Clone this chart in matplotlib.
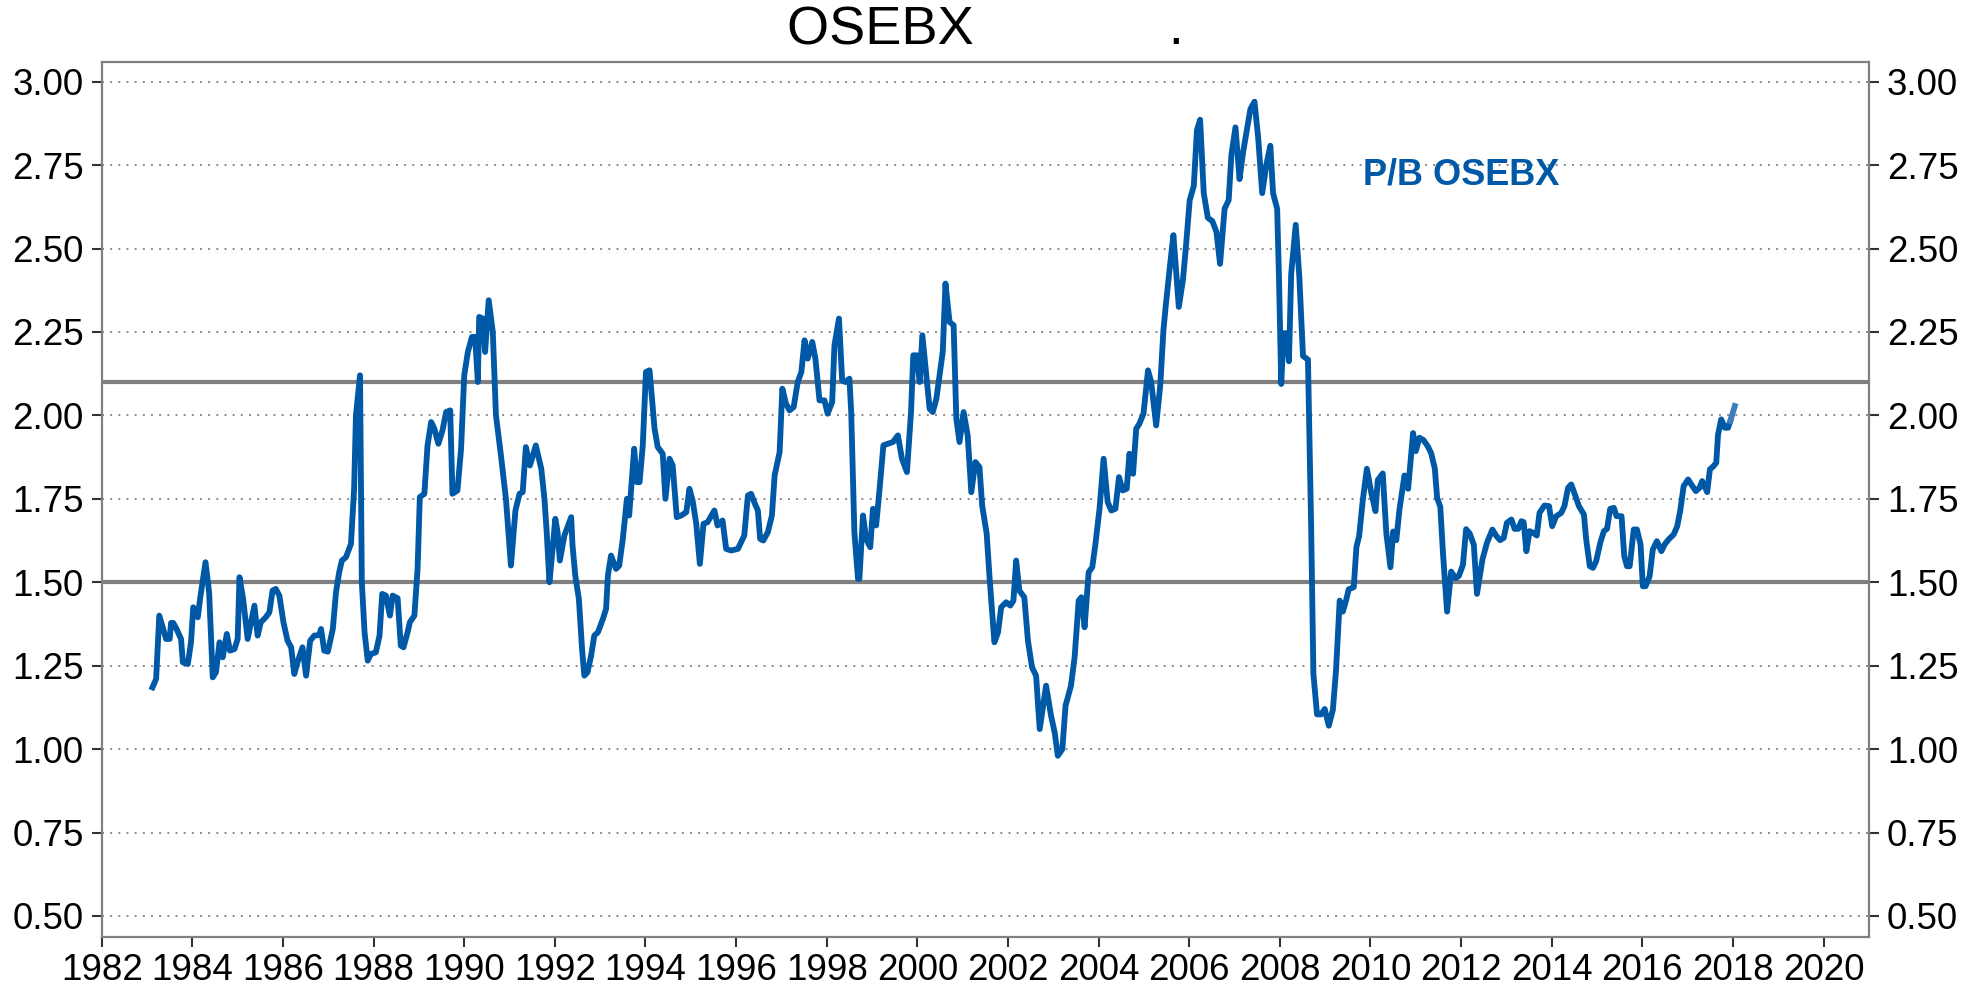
import matplotlib
matplotlib.use("Agg")
import matplotlib.pyplot as plt

plt.rcParams['font.family'] = ['Liberation Sans', 'DejaVu Sans']

# P/B OSEBX (fractional year, value)
years = [
    1983.12, 1983.20, 1983.27, 1983.42, 1983.50, 1983.53, 1983.58, 1983.65, 1983.75, 1983.79,
    1983.90, 1983.97, 1984.02, 1984.12, 1984.17, 1984.29, 1984.37, 1984.45, 1984.52, 1984.60,
    1984.67, 1984.76, 1984.83, 1984.93, 1985.00, 1985.04, 1985.12, 1985.22, 1985.37, 1985.44,
    1985.51, 1985.62, 1985.70, 1985.77, 1985.84, 1985.92, 1986.01, 1986.10, 1986.18, 1986.25,
    1986.32, 1986.43, 1986.51, 1986.60, 1986.69, 1986.80, 1986.84, 1986.91, 1986.99, 1987.10,
    1987.17, 1987.24, 1987.30, 1987.39, 1987.50, 1987.57, 1987.61, 1987.70, 1987.74, 1987.80,
    1987.87, 1987.94, 1988.05, 1988.13, 1988.19, 1988.27, 1988.36, 1988.42, 1988.53, 1988.60,
    1988.66, 1988.75, 1988.80, 1988.90, 1988.97, 1989.02, 1989.12, 1989.19, 1989.27, 1989.34,
    1989.43, 1989.52, 1989.60, 1989.69, 1989.74, 1989.85, 1989.93, 1990.00, 1990.08, 1990.17,
    1990.24, 1990.30, 1990.33, 1990.41, 1990.46, 1990.54, 1990.63, 1990.70, 1990.81, 1990.92,
    1991.03, 1991.13, 1991.22, 1991.29, 1991.36, 1991.45, 1991.58, 1991.70, 1991.77, 1991.82,
    1991.88, 1991.95, 1992.01, 1992.06, 1992.11, 1992.21, 1992.36, 1992.39, 1992.45, 1992.53,
    1992.60, 1992.65, 1992.72, 1992.80, 1992.87, 1992.95, 1993.06, 1993.13, 1993.17, 1993.24,
    1993.35, 1993.42, 1993.50, 1993.59, 1993.64, 1993.75, 1993.81, 1993.87, 1993.94, 1994.01,
    1994.09, 1994.20, 1994.27, 1994.38, 1994.44, 1994.53, 1994.60, 1994.69, 1994.79, 1994.90,
    1994.97, 1995.04, 1995.12, 1995.20, 1995.28, 1995.37, 1995.52, 1995.59, 1995.70, 1995.78,
    1995.89, 1996.04, 1996.18, 1996.26, 1996.33, 1996.40, 1996.48, 1996.53, 1996.60, 1996.70,
    1996.79, 1996.85, 1996.96, 1997.02, 1997.10, 1997.18, 1997.27, 1997.36, 1997.44, 1997.51,
    1997.58, 1997.68, 1997.75, 1997.84, 1997.95, 1998.02, 1998.12, 1998.17, 1998.27, 1998.34,
    1998.41, 1998.50, 1998.54, 1998.61, 1998.69, 1998.72, 1998.80, 1998.87, 1998.96, 1999.02,
    1999.09, 1999.16, 1999.25, 1999.35, 1999.46, 1999.57, 1999.66, 1999.77, 1999.86, 1999.91,
    1999.99, 2000.05, 2000.11, 2000.19, 2000.27, 2000.34, 2000.42, 2000.49, 2000.56, 2000.62,
    2000.71, 2000.80, 2000.86, 2000.93, 2001.02, 2001.11, 2001.19, 2001.28, 2001.37, 2001.43,
    2001.53, 2001.59, 2001.70, 2001.78, 2001.85, 2001.96, 2002.05, 2002.12, 2002.18, 2002.25,
    2002.36, 2002.44, 2002.53, 2002.62, 2002.70, 2002.84, 2002.95, 2003.03, 2003.10, 2003.20,
    2003.27, 2003.39, 2003.47, 2003.56, 2003.62, 2003.69, 2003.78, 2003.86, 2003.93, 2004.02,
    2004.11, 2004.20, 2004.28, 2004.37, 2004.45, 2004.53, 2004.62, 2004.68, 2004.76, 2004.83,
    2004.90, 2004.99, 2005.09, 2005.16, 2005.27, 2005.36, 2005.43, 2005.49, 2005.58, 2005.65,
    2005.77, 2005.86, 2005.93, 2006.01, 2006.10, 2006.17, 2006.24, 2006.32, 2006.41, 2006.51,
    2006.60, 2006.68, 2006.78, 2006.87, 2006.93, 2007.02, 2007.11, 2007.19, 2007.27, 2007.35,
    2007.44, 2007.52, 2007.61, 2007.70, 2007.79, 2007.85, 2007.94, 2007.98, 2008.03, 2008.08,
    2008.14, 2008.20, 2008.25, 2008.35, 2008.43, 2008.51, 2008.62, 2008.69, 2008.74, 2008.82,
    2008.91, 2008.99, 2009.08, 2009.17, 2009.24, 2009.32, 2009.39, 2009.46, 2009.52, 2009.63,
    2009.69, 2009.75, 2009.83, 2009.92, 2010.02, 2010.11, 2010.16, 2010.27, 2010.35, 2010.44,
    2010.50, 2010.57, 2010.64, 2010.75, 2010.83, 2010.94, 2011.00, 2011.08, 2011.17, 2011.27,
    2011.34, 2011.42, 2011.47, 2011.54, 2011.60, 2011.69, 2011.78, 2011.88, 2011.95, 2012.04,
    2012.11, 2012.19, 2012.28, 2012.35, 2012.47, 2012.57, 2012.69, 2012.78, 2012.86, 2012.94,
    2013.01, 2013.11, 2013.18, 2013.26, 2013.33, 2013.38, 2013.44, 2013.51, 2013.59, 2013.67,
    2013.73, 2013.84, 2013.94, 2014.01, 2014.10, 2014.21, 2014.28, 2014.36, 2014.43, 2014.51,
    2014.60, 2014.71, 2014.76, 2014.84, 2014.91, 2014.98, 2015.07, 2015.15, 2015.22, 2015.29,
    2015.37, 2015.43, 2015.54, 2015.60, 2015.66, 2015.72, 2015.81, 2015.88, 2015.96, 2016.01,
    2016.07, 2016.16, 2016.23, 2016.32, 2016.42, 2016.49, 2016.59, 2016.69, 2016.77, 2016.84,
    2016.91, 2017.01, 2017.08, 2017.18, 2017.26, 2017.32, 2017.43, 2017.49, 2017.57, 2017.63,
    2017.67, 2017.74, 2017.82, 2017.89, 2017.94,
]
pb = [
    1.185, 1.21, 1.40, 1.33, 1.33, 1.378, 1.378, 1.36, 1.33, 1.26,
    1.255, 1.32, 1.425, 1.395, 1.45, 1.56, 1.47, 1.215, 1.23, 1.32,
    1.275, 1.345, 1.295, 1.30, 1.33, 1.515, 1.45, 1.33, 1.43, 1.34,
    1.38, 1.395, 1.41, 1.475, 1.48, 1.46, 1.38, 1.325, 1.305, 1.225,
    1.26, 1.305, 1.22, 1.325, 1.34, 1.342, 1.36, 1.295, 1.292, 1.36,
    1.47, 1.53, 1.565, 1.575, 1.615, 1.78, 2.00, 2.12, 1.50, 1.35,
    1.265, 1.285, 1.29, 1.34, 1.465, 1.46, 1.40, 1.46, 1.452, 1.31,
    1.305, 1.35, 1.38, 1.40, 1.54, 1.755, 1.765, 1.91, 1.98, 1.96,
    1.915, 1.955, 2.01, 2.015, 1.765, 1.775, 1.90, 2.12, 2.19, 2.235,
    2.235, 2.10, 2.295, 2.29, 2.19, 2.345, 2.25, 2.00, 1.88, 1.75,
    1.55, 1.715, 1.765, 1.77, 1.905, 1.85, 1.91, 1.84, 1.75, 1.65,
    1.50, 1.60, 1.69, 1.65, 1.565, 1.64, 1.695, 1.61, 1.52, 1.45,
    1.30, 1.22, 1.23, 1.28, 1.34, 1.35, 1.39, 1.42, 1.52, 1.58,
    1.54, 1.55, 1.63, 1.75, 1.70, 1.90, 1.80, 1.80, 1.91, 2.13,
    2.135, 1.96, 1.905, 1.885, 1.75, 1.87, 1.85, 1.695, 1.70, 1.71,
    1.78, 1.745, 1.675, 1.555, 1.675, 1.68, 1.715, 1.67, 1.685, 1.60,
    1.595, 1.60, 1.64, 1.76, 1.765, 1.74, 1.715, 1.63, 1.625, 1.65,
    1.70, 1.82, 1.89, 2.08, 2.035, 2.015, 2.025, 2.10, 2.13, 2.225,
    2.17, 2.22, 2.17, 2.045, 2.045, 2.005, 2.04, 2.21, 2.29, 2.105,
    2.10, 2.11, 2.01, 1.65, 1.51, 1.51, 1.70, 1.63, 1.605, 1.72,
    1.67, 1.77, 1.91, 1.915, 1.92, 1.94, 1.87, 1.83, 2.01, 2.18,
    2.18, 2.10, 2.24, 2.13, 2.02, 2.01, 2.05, 2.12, 2.19, 2.395,
    2.28, 2.27, 1.99, 1.92, 2.01, 1.94, 1.77, 1.86, 1.845, 1.73,
    1.645, 1.52, 1.32, 1.35, 1.425, 1.44, 1.43, 1.445, 1.565, 1.475,
    1.455, 1.325, 1.245, 1.22, 1.06, 1.19, 1.10, 1.05, 0.98, 1.00,
    1.13, 1.19, 1.275, 1.445, 1.455, 1.365, 1.53, 1.545, 1.615, 1.72,
    1.87, 1.74, 1.715, 1.72, 1.815, 1.775, 1.78, 1.885, 1.825, 1.96,
    1.975, 2.005, 2.135, 2.10, 1.97, 2.09, 2.255, 2.34, 2.455, 2.54,
    2.325, 2.405, 2.51, 2.645, 2.687, 2.855, 2.886, 2.666, 2.592, 2.582,
    2.55, 2.454, 2.619, 2.645, 2.78, 2.863, 2.708, 2.79, 2.855, 2.918,
    2.94, 2.834, 2.666, 2.75, 2.808, 2.666, 2.619, 2.414, 2.094, 2.246,
    2.246, 2.162, 2.424, 2.571, 2.414, 2.178, 2.167, 1.666, 1.225, 1.104,
    1.104, 1.12, 1.07, 1.118, 1.238, 1.445, 1.412, 1.445, 1.479, 1.485,
    1.606, 1.639, 1.746, 1.84, 1.766, 1.713, 1.806, 1.826, 1.646, 1.545,
    1.652, 1.626, 1.719, 1.82, 1.78, 1.947, 1.893, 1.933, 1.926, 1.906,
    1.886, 1.84, 1.753, 1.726, 1.586, 1.412, 1.532, 1.512, 1.519, 1.552,
    1.659, 1.646, 1.612, 1.465, 1.568, 1.618, 1.658, 1.638, 1.626, 1.633,
    1.678, 1.688, 1.66, 1.66, 1.683, 1.68, 1.593, 1.653, 1.648, 1.64,
    1.708, 1.73, 1.728, 1.668, 1.698, 1.708, 1.728, 1.783, 1.793, 1.763,
    1.728, 1.703, 1.628, 1.548, 1.543, 1.563, 1.618, 1.653, 1.66, 1.72,
    1.723, 1.698, 1.698, 1.578, 1.548, 1.548, 1.658, 1.658, 1.613, 1.488,
    1.488, 1.518, 1.598, 1.623, 1.593, 1.613, 1.63, 1.643, 1.668, 1.718,
    1.788, 1.808, 1.793, 1.773, 1.783, 1.803, 1.77, 1.838, 1.848, 1.858,
    1.943, 1.988, 1.963, 1.963, 1.983,
]
# latest (preliminary) reading, drawn lighter
last_year = [2017.94, 2018.04]
last_pb = [1.983, 2.028]

band = [1.50, 2.10]
yticks = [0.50, 0.75, 1.00, 1.25, 1.50, 1.75, 2.00, 2.25, 2.50, 2.75, 3.00]
xticks = list(range(1982, 2021, 2))

blue = '#0059A6'
grey = '#808080'

fig = plt.figure(figsize=(19.64, 9.94), dpi=100)
ax = fig.add_axes([0.0518, 0.0577, 0.8998, 0.8803])

for y in yticks:
    ax.axhline(y, color='#8a8a8a', lw=1.4, ls=(0, (1, 3.2)), zorder=1)
for y in band:
    ax.axhline(y, color=grey, lw=3, zorder=2)

ax.plot(years, pb, color=blue, lw=4.2, zorder=3)
ax.plot(last_year, last_pb, color='#3d7fbd', lw=4.2, zorder=3)

ax.text(2009.83, 2.72, 'P/B OSEBX', color=blue, fontsize=26, fontweight='bold',
        va='center', ha='left')

ax.set_xlim(1982, 2021)
ax.set_ylim(0.438, 3.06)
ax.set_yticks(yticks)
ax.set_yticklabels(['%.2f' % v for v in yticks])
ax.set_xticks(xticks)
ax.set_xticklabels([str(x) for x in xticks])

ax.tick_params(axis='y', which='both', left=True, right=True, labelleft=True,
               labelright=True, direction='out', length=7, width=1.5,
               color='#333333', labelsize=26.5, pad=6)
ax.tick_params(axis='x', direction='out', length=7, width=1.5, color='#333333',
               labelsize=26.5, pad=5)

for s in ax.spines.values():
    s.set_color(grey)
    s.set_linewidth(1.6)

ax.set_title('OSEBX' + ' ' * 13 + '.', fontsize=39, pad=12)

fig.savefig('out.png', dpi=100)
